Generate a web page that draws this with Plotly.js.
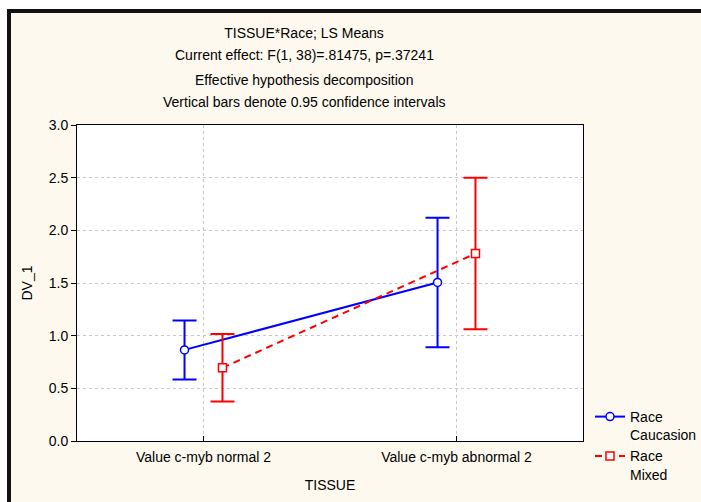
<!DOCTYPE html>
<html>
<head>
<meta charset="utf-8">
<script src="https://cdn.plot.ly/plotly-3.0.1.min.js"></script>
<style>
html, body { margin: 0; padding: 0; background: #ffffff; }
#frame { position: absolute; left: 7px; top: 9px; border-top: 4px solid #111; border-left: 4px solid #111; width: 690px; height: 489px; background: #fef9ee; }
#chart { width: 690px; height: 489px; }
</style>
</head>
<body>
<div id="frame"><div id="chart"></div></div>
<script>
const categories = ["Value c-myb normal 2", "Value c-myb abnormal 2"];
const caucasionMeans = [0.865, 1.505];
const caucasionCI = [0.28, 0.615];
const mixedMeans = [0.695, 1.78];
const mixedCI = [0.32, 0.72];
const yTicks = [0, 0.5, 1, 1.5, 2, 2.5, 3];
const yTickText = ["0.0", "0.5", "1.0", "1.5", "2.0", "2.5", "3.0"];
const titleLines = [
  "TISSUE*Race; LS Means",
  "Current effect: F(1, 38)=.81475, p=.37241",
  "Effective hypothesis decomposition",
  "Vertical bars denote 0.95 confidence intervals"
];

const FONT = "Liberation Sans, Arial, sans-serif";
const FS = 14;
const off = 0.075;
const idx = categories.map((c, i) => i);

const traces = [
  {
    x: idx.map(i => i - off), y: caucasionMeans,
    type: "scatter", mode: "lines+markers", name: "Race<br>Caucasion",
    line: { color: "#0000ff", width: 2 },
    marker: { symbol: "circle", size: 8, color: "#ffffff", line: { color: "#0000ff", width: 1.5 } },
    error_y: { type: "data", array: caucasionCI, visible: true, color: "#0000ff", thickness: 2, width: 12 }
  },
  {
    x: idx.map(i => i + off), y: mixedMeans,
    type: "scatter", mode: "lines+markers", name: "Race<br>Mixed",
    line: { color: "#ff0000", width: 2, dash: "7px,5px" },
    marker: { symbol: "square", size: 8, color: "#ffffff", line: { color: "#ff0000", width: 1.5 } },
    error_y: { type: "data", array: mixedCI, visible: true, color: "#ff0000", thickness: 2, width: 12 }
  }
];

const titleY = [33, 55, 80, 102]; // pixel centers within page
const annotations = titleLines.slice(1).map((t, k) => ({
  text: t, xref: "paper", yref: "paper",
  x: (304 - 77) / 506, y: (441 - titleY[k + 1]) / 316,
  xanchor: "center", yanchor: "middle", showarrow: false,
  font: { family: FONT, size: FS, color: "#000" }
}));

const layout = {
  width: 690, height: 489,
  paper_bgcolor: "#fef9ee",
  plot_bgcolor: "#ffffff",
  margin: { l: 66, r: 118, t: 112, b: 61 },
  font: { family: FONT, size: FS, color: "#000" },
  title: {
    text: titleLines[0],
    font: { family: FONT, size: FS, color: "#000" },
    x: (304 - 11) / 690, xanchor: "center", xref: "container",
    y: 1 - (33 - 13) / 489, yanchor: "middle", yref: "container"
  },
  annotations: annotations,
  xaxis: {
    range: [-0.5, 1.5],
    tickvals: idx, ticktext: categories,
    ticks: "inside", ticklen: 5, tickcolor: "#000",
    ticklabelstandoff: 3,
    showgrid: true, gridcolor: "#c8c8c8", griddash: "dot", gridwidth: 1,
    showline: true, linecolor: "#000", linewidth: 1, mirror: true,
    zeroline: false, automargin: false,
    title: { text: "TISSUE", font: { family: FONT, size: FS }, standoff: 16 },
    tickfont: { family: FONT, size: FS }
  },
  yaxis: {
    range: [0, 3],
    tickvals: yTicks, ticktext: yTickText,
    ticks: "outside", ticklen: 5, tickcolor: "#000",
    showgrid: true, gridcolor: "#c8c8c8", griddash: "dot", gridwidth: 1,
    showline: true, linecolor: "#000", linewidth: 1, mirror: true,
    zeroline: false, automargin: false,
    title: { text: "DV_1", font: { family: FONT, size: FS }, standoff: 12 },
    tickfont: { family: FONT, size: FS }
  },
  legend: {
    xref: "container", yref: "container",
    x: (590 - 11) / 690, y: 1 - (401 - 13) / 489,
    xanchor: "left", yanchor: "top",
    bgcolor: "rgba(0,0,0,0)",
    font: { family: FONT, size: FS, color: "#000" },
    valign: "top", tracegroupgap: 0, itemwidth: 30
  },
  showlegend: true
};

Plotly.newPlot("chart", traces, layout, { displayModeBar: false, staticPlot: true });
</script>
</body>
</html>
